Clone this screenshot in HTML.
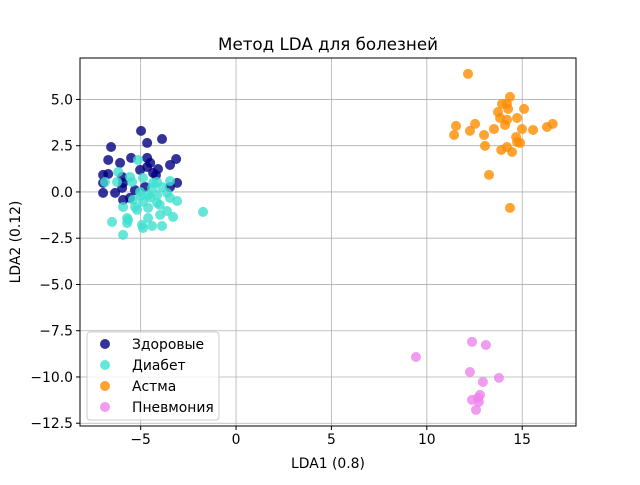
<!DOCTYPE html>
<html><head><meta charset="utf-8"><style>
body{margin:0;background:#fff}
svg text{font-family:"DejaVu Sans","Liberation Sans",sans-serif;fill:#000}
</style></head><body>
<svg id="chart" width="640" height="480" xmlns="http://www.w3.org/2000/svg">
<rect width="640" height="480" fill="#fff"/>
<text x="328" y="50" font-size="16.7" text-anchor="middle">Метод LDA для болезней</text>
<g id="grid"></g>
<g id="pts"></g>
<rect x="80" y="58" width="496" height="368" fill="none" stroke="#000" stroke-width="1"/>
<g id="ticks"></g>
<text x="328" y="468" font-size="13.9" text-anchor="middle">LDA1 (0.8)</text>
<text transform="translate(20,242) rotate(-90)" font-size="13.9" text-anchor="middle">LDA2 (0.12)</text>
<g id="legend"></g>
</svg>
<script>
const xTicks=[-5,0,5,10,15];
const xTickLabels=["−5","0","5","10","15"];
const yTicks=[5,2.5,0,-2.5,-5,-7.5,-10,-12.5];
const yTickLabels=["5.0","2.5","0.0","−2.5","−5.0","−7.5","−10.0","−12.5"];
const seriesNames=["Здоровые","Диабет","Астма","Пневмония"];
const seriesColors=["navy","turquoise","darkorange","violet"];
const healthyX=[-4.98,-3.88,-4.66,-6.55,-6.7,-5.5,-4.66,-3.14,-6.08,-3.46,-4.09,-4.66,-6.97,-6.7,-4.35,-5.97,-6.97,-5.92,-3.09,-6.97,-6.34,-5.97,-5.56,-5.92,-5.03,-4.77,-3.46,-4.5,-5.3,-4.2];
const healthyY=[3.3,2.86,2.65,2.43,1.73,1.84,1.84,1.78,1.57,1.46,1.24,1.35,0.92,0.97,1.03,0.81,0.49,0.49,0.49,-0.05,-0.05,0.22,-0.32,-0.43,1.19,0.27,0.27,1.57,0.1,0.9];
const diabetesX=[-5.14,-6.18,-5.56,-6.87,-6.24,-4.88,-5.45,-4.14,-3.46,-3.88,-4.4,-5.03,-4.61,-4.14,-3.62,-3.46,-3.09,-5.4,-4.88,-4.14,-5.92,-5.29,-4.61,-3.62,-1.73,-3.98,-3.3,-5.71,-4.61,-6.5,-5.71,-4.93,-4.4,-3.88,-4.88,-5.92,-5.66,-4.35,-5.19,-4.5,-4.0,-5.0];
const diabetesY=[1.73,1.08,0.81,0.54,0.54,0.76,0.54,0.54,0.59,0.27,0.22,0,-0.16,-0.16,-0.05,-0.32,-0.49,-0.43,-0.54,-0.59,-0.81,-0.81,-0.86,-1.03,-1.08,-1.24,-1.35,-1.41,-1.41,-1.62,-1.68,-1.78,-1.84,-1.84,-1.95,-2.32,-1.51,0.49,-0.97,-0.3,-0.7,-0.2];
const asthmaX=[12.16,14.36,13.94,14.2,15.1,13.73,14.26,13.84,14.2,14.73,14.1,11.53,12.53,13.52,14.99,15.57,16.3,16.6,11.43,12.26,13.0,14.68,14.73,14.89,13.05,13.9,14.2,14.47,13.26,14.36];
const asthmaY=[6.38,5.14,4.76,4.76,4.49,4.32,4.49,4.0,3.9,4.0,3.62,3.57,3.68,3.4,3.4,3.35,3.51,3.68,3.08,3.3,3.08,2.97,2.7,2.65,2.49,2.27,2.43,2.16,0.92,-0.86];
const pneumoniaX=[9.43,12.37,13.1,12.26,12.94,13.78,12.79,12.68,12.37,12.73,12.58];
const pneumoniaY=[-8.92,-8.1,-8.27,-9.73,-10.27,-10.05,-10.97,-11.13,-11.24,-11.35,-11.78];
const NS="http://www.w3.org/2000/svg";
const X0=80,X1=576,Y0=58,Y1=426,xmin=-8.18,xmax=17.82,ymin=-12.65,ymax=7.24;
const sx=v=>X0+(v-xmin)/(xmax-xmin)*(X1-X0);
const sy=v=>Y1-(v-ymin)/(ymax-ymin)*(Y1-Y0);
function mk(t,a,p){const e=document.createElementNS(NS,t);for(const k in a)e.setAttribute(k,a[k]);p.appendChild(e);return e;}
const grid=document.getElementById('grid'),ticks=document.getElementById('ticks');
xTicks.forEach((v,i)=>{const x=sx(v);
 const g=mk('line',{x1:x,x2:x,y1:Y0,y2:Y1,stroke:'#b0b0b0','stroke-width':0.8},grid);
 
 mk('line',{x1:x,x2:x,y1:Y1,y2:Y1+4,stroke:'#000'},ticks);
 const t=mk('text',{x:x,y:Y1+18,'font-size':13.9,'text-anchor':'middle'},ticks);
 
 t.textContent=xTickLabels[i];});
yTicks.forEach((v,i)=>{const y=sy(v);
 const g=mk('line',{x1:X0,x2:X1,y1:y,y2:y,stroke:'#b0b0b0','stroke-width':0.8},grid);
 
 mk('line',{x1:X0-4,x2:X0,y1:y,y2:y,stroke:'#000'},ticks);
 const t=mk('text',{x:X0-7,y:y+5,'font-size':13.9,'text-anchor':'end'},ticks);
 
 t.textContent=yTickLabels[i];});
const pts=document.getElementById('pts');
const allX=[healthyX,diabetesX,asthmaX,pneumoniaX],allY=[healthyY,diabetesY,asthmaY,pneumoniaY];
allX.forEach((xs,s)=>{xs.forEach((v,i)=>{
 const c=mk('circle',{cx:sx(v),cy:sy(allY[s][i]),r:5,fill:seriesColors[s],'fill-opacity':0.8},pts);
 
 });});
const lg=document.getElementById('legend');
const box=mk('rect',{x:87,y:332,width:132,height:88,rx:3,fill:'#fff','fill-opacity':0.8,stroke:'#ccc'},lg);

seriesNames.forEach((n,i)=>{const y=344+i*21;
 const c=mk('circle',{cx:105,cy:y,r:5,fill:seriesColors[i],'fill-opacity':0.8},lg);
 
 const t=mk('text',{x:132,y:y+5,'font-size':13.9},lg);
 
 t.textContent=n;});
</script>
</body></html>
